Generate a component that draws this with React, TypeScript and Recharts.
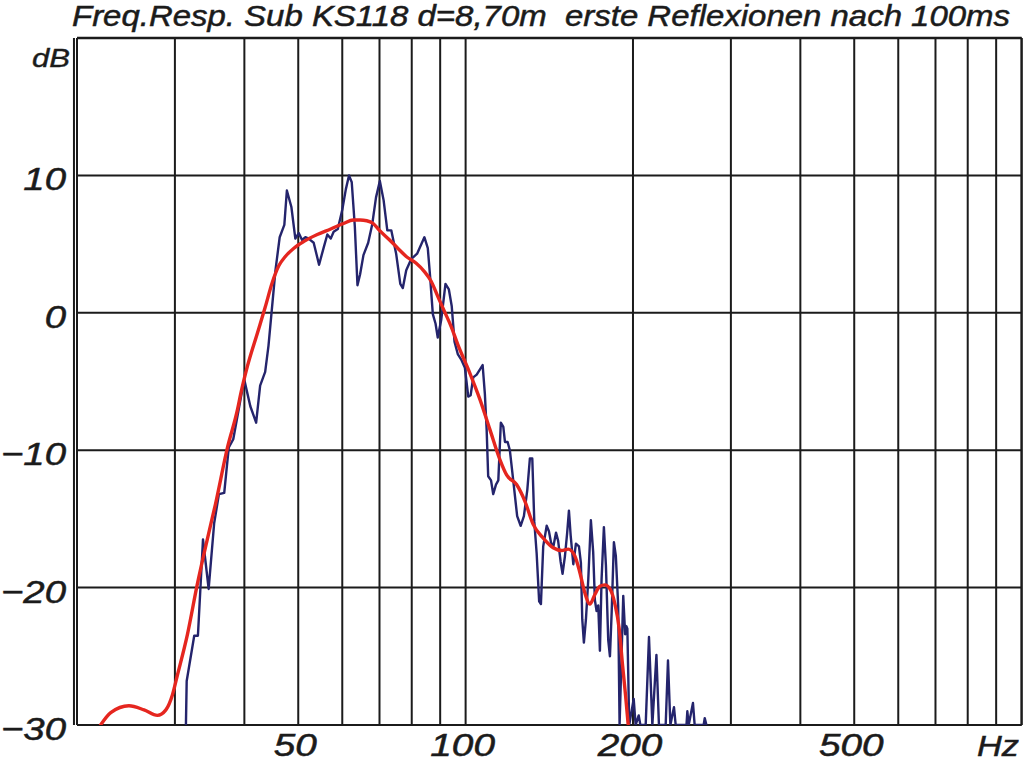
import React from 'react';
import { LineChart, Line, XAxis, YAxis, CartesianGrid, ReferenceLine } from 'recharts';

const chartTitle = 'Freq.Resp. Sub KS118 d=8,70m  erste Reflexionen nach 100ms';
const yUnit = 'dB';
const xUnit = 'Hz';

const xGridTicks = [20, 30, 40, 50, 60, 70, 80, 90, 100, 200, 300, 400, 500, 600, 700, 800, 900, 1000];
const xLabelTicks = [50, 100, 200, 500];
const yGridTicks = [-30, -20, -10, 0, 10, 20];
const yLabelTicks = [-30, -20, -10, 0, 10];

// measured response (dark blue)
const measuredFreq = [
  31.4, 31.5, 32.5, 33.0, 33.7, 34.5, 35.3, 36.0, 36.8, 37.5,
  38.2, 39.7, 40.0, 41.0, 42.0, 42.7, 43.6, 44.2, 45.5, 46.3,
  47.2, 47.7, 48.6, 49.4, 50.1, 50.8, 51.5, 52.2, 53.3, 54.5,
  55.6, 56.4, 57.2, 57.9, 58.9, 60.0, 60.9, 61.7, 62.4, 63.2,
  63.9, 64.6, 65.5, 66.8, 67.9, 69.0, 70.1, 71.2, 72.3, 73.5,
  75.0, 76.3, 77.1, 78.2, 79.8, 81.8, 84.3, 85.5, 86.3, 87.3,
  88.3, 89.1, 90.4, 92.0, 93.3, 94.4, 95.5, 96.8, 98.2, 99.7,
  101.1, 102.1, 103.2, 104.7, 107.3, 108.3, 109.1, 109.8, 111.1, 112.1,
  113.4, 114.5, 115.7, 116.9, 117.7, 119.0, 120.1, 121.8, 123.8, 125.6,
  127.3, 129.1, 130.5, 131.8, 132.9, 134.2, 135.6, 136.6, 137.9, 139.9,
  141.2, 142.4, 143.7, 145.4, 146.7, 148.2, 149.4, 150.9, 152.3, 153.4,
  154.5, 156.2, 157.9, 159.9, 161.2, 162.1, 163.2, 164.6, 166.2, 168.0,
  169.6, 170.8, 172.0, 173.2, 174.4, 175.6, 177.3, 178.8, 180.5, 181.8,
  183.1, 184.8, 186.3, 188.1, 189.2, 192.1, 193.6, 194.5, 195.4, 196.9,
  200.6, 202.2, 204.8, 206.2, 210.8, 213.7, 216.7, 220.4, 222.7, 229.0,
  231.2, 233.5, 237.0, 238.7, 249.6, 250.5, 251.9, 256.4, 258.2, 268.0,
  269.2, 271.1,
];
const measuredDb = [
  -30, -26.8, -23.5, -23.5, -16.5, -20.1, -15.3, -13.2, -13.1, -9.8,
  -9.2, -5.5, -4.9, -6.8, -8.0, -5.3, -4.3, -2.4, 3.1, 5.5,
  6.4, 8.9, 7.7, 5.4, 5.8, 5.3, 5.5, 5.4, 5.1, 3.5,
  4.8, 5.7, 5.4, 5.9, 6.1, 7.5, 9.0, 10.0, 9.5, 6.3,
  2.0, 2.8, 4.2, 5.1, 6.4, 8.4, 9.6, 8.2, 6.0, 6.0,
  4.3, 2.1, 1.8, 3.1, 3.9, 4.3, 5.5, 4.7, 2.7, -0.1,
  -0.8, -1.8, -0.5, 2.1, 1.7, 0.5, -2.1, -3.0, -3.4, -4.0,
  -6.1, -6.0, -4.7, -4.5, -3.8, -5.9, -8.5, -11.9, -12.2, -13.2,
  -12.5, -12.2, -8.0, -8.3, -9.4, -9.4, -10.0, -12.2, -14.8, -15.5,
  -14.8, -12.9, -10.6, -10.6, -15.2, -17.5, -21.0, -21.2, -17.0, -15.5,
  -15.9, -16.7, -17.1, -16.0, -16.6, -18.1, -19.0, -17.7, -16.0, -14.4,
  -16.2, -18.3, -16.8, -17.0, -18.2, -22.3, -24.0, -22.3, -19.4, -15.1,
  -17.4, -20.9, -21.7, -21.3, -24.6, -19.4, -15.6, -18.4, -23.8, -25.0,
  -21.8, -16.7, -17.7, -21.3, -30, -20.6, -23.4, -22.8, -23.0, -30,
  -28.1, -30, -29.3, -30, -30, -23.6, -30, -24.9, -30, -30,
  -25.3, -30, -28.7, -30, -30, -29.0, -30, -28.4, -30, -30,
  -29.5, -30,
];

// smoothed response (red)
const smoothFreq = [
  22.05, 23.0, 24.8, 26.4, 27.9, 28.9, 29.7, 30.3, 31.6, 32.9,
  34.3, 35.5, 37.3, 38.9, 39.4, 40.5, 42.2, 43.6, 44.9, 46.1,
  47.4, 49.1, 51.2, 54.1, 57.2, 60.3, 62.8, 64.6, 66.4, 68.2,
  70.0, 73.0, 75.5, 78.2, 81.5, 84.3, 86.7, 89.1, 91.6, 94.2,
  96.8, 101.8, 106.1, 110.6, 115.3, 118.5, 123.5, 127.8, 132.3, 137.9,
  143.7, 148.8, 152.9, 157.2, 160.5, 163.9, 167.3, 170.8, 174.4, 178.0,
  181.8, 185.6, 188.9, 191.6, 194.0, 196.1,
];
const smoothDb = [
  -30, -29.1, -28.6, -28.9, -29.3, -28.9, -27.8, -26.4, -23.4, -19.8,
  -16.5, -13.9, -9.8, -7.0, -5.9, -3.9, -1.5, 0.4, 2.2, 3.4,
  4.1, 4.7, 5.2, 5.7, 6.1, 6.5, 6.75, 6.75, 6.7, 6.5,
  6.0, 5.3, 4.7, 4.1, 3.6, 3.0, 2.3, 1.2, 0.1, -1.0,
  -2.3, -4.4, -6.3, -8.5, -10.7, -11.8, -12.5, -13.7, -15.4, -16.4,
  -17.1, -17.3, -17.2, -17.7, -18.9, -20.4, -21.2, -20.5, -19.9, -19.8,
  -20.1, -21.2, -23.0, -25.7, -27.9, -30,
];

const measuredData = measuredFreq.map((f, i) => ({ f, db: measuredDb[i] }));
const smoothData = smoothFreq.map((f, i) => ({ f, db: smoothDb[i] }));

const FONT = '"Liberation Sans", Arial, sans-serif';
const INK = '#1b1b1b';

const XTick = (props: any) => {
  const { x, y, payload } = props;
  if (!xLabelTicks.includes(payload.value)) return <g />;
  return (
    <text
      transform={`translate(${x - 3},${y + 31}) scale(1.25,1)`}
      textAnchor="middle"
      fontFamily={FONT}
      fontStyle="italic"
      fontSize={31}
      fill={INK}
      stroke={INK}
      strokeWidth={0.5}
    >
      {payload.value}
    </text>
  );
};

const YTick = (props: any) => {
  const { x, y, payload } = props;
  if (!yLabelTicks.includes(payload.value)) return <g />;
  const v = payload.value;
  const label = v < 0 ? `\u2212${Math.abs(v)}` : `${v}`;
  return (
    <text
      transform={`translate(${x - 11},${y + 15}) scale(1.2,1)`}
      textAnchor="end"
      fontFamily={FONT}
      fontStyle="italic"
      fontSize={32}
      fill={INK}
      stroke={INK}
      strokeWidth={0.5}
    >
      {label}
    </text>
  );
};

export default function App() {
  return (
    <div style={{ position: 'absolute', left: 0, top: 0, width: 1024, height: 760, background: '#fff' }}>
      <LineChart
        width={1024}
        height={760}
        margin={{ top: 38, right: 2.4, bottom: 0, left: 0 }}
      >
        <CartesianGrid
          stroke={INK}
          strokeWidth={2}
          horizontalValues={yGridTicks}
          verticalValues={xGridTicks}
        />
        <XAxis
          dataKey="f"
          type="number"
          scale="log"
          domain={[20, 1000]}
          allowDataOverflow
          ticks={xGridTicks}
          interval={0}
          height={35}
          tickSize={0}
          tickMargin={0}
          axisLine={false}
          tickLine={false}
          tick={<XTick />}
        />
        <YAxis
          type="number"
          domain={[-30, 20]}
          allowDataOverflow
          ticks={yGridTicks}
          interval={0}
          width={77}
          tickSize={0}
          tickMargin={0}
          axisLine={false}
          tickLine={false}
          tick={<YTick />}
        />
        <ReferenceLine x={19.75} stroke={INK} strokeWidth={2} ifOverflow="visible" />
        <ReferenceLine x={20} stroke={INK} strokeWidth={2} />
        <ReferenceLine x={1000} stroke={INK} strokeWidth={2} />
        <ReferenceLine y={20} stroke={INK} strokeWidth={2.6} />
        <ReferenceLine y={-30} stroke={INK} strokeWidth={2.2} />
        <Line
          data={measuredData}
          dataKey="db"
          type="linear"
          stroke="#24246c"
          strokeWidth={2.4}
          dot={false}
          strokeLinejoin="round"
          isAnimationActive={false}
        />
        <Line
          data={smoothData}
          dataKey="db"
          type="monotone"
          stroke="#e5261f"
          strokeWidth={3.4}
          dot={false}
          strokeLinecap="round"
          isAnimationActive={false}
        />
      </LineChart>
      <svg
        width={1024}
        height={760}
        style={{ position: 'absolute', left: 0, top: 0, pointerEvents: 'none' }}
      >
        <text
          x={72}
          y={26}
          fontFamily={FONT}
          fontStyle="italic"
          fontSize={29}
          fill={INK}
          stroke={INK}
          strokeWidth={0.5}
          textLength={938}
          lengthAdjust="spacingAndGlyphs"
          style={{ whiteSpace: 'pre' }}
        >
          {chartTitle}
        </text>
        <text
          x={32}
          y={67}
          fontFamily={FONT}
          fontStyle="italic"
          fontSize={26}
          fill={INK}
          stroke={INK}
          strokeWidth={0.4}
          textLength={38}
          lengthAdjust="spacingAndGlyphs"
        >
          {yUnit}
        </text>
        <text
          x={977}
          y={756}
          fontFamily={FONT}
          fontStyle="italic"
          fontSize={30}
          fill={INK}
          stroke={INK}
          strokeWidth={0.5}
          textLength={42}
          lengthAdjust="spacingAndGlyphs"
        >
          {xUnit}
        </text>
      </svg>
    </div>
  );
}
